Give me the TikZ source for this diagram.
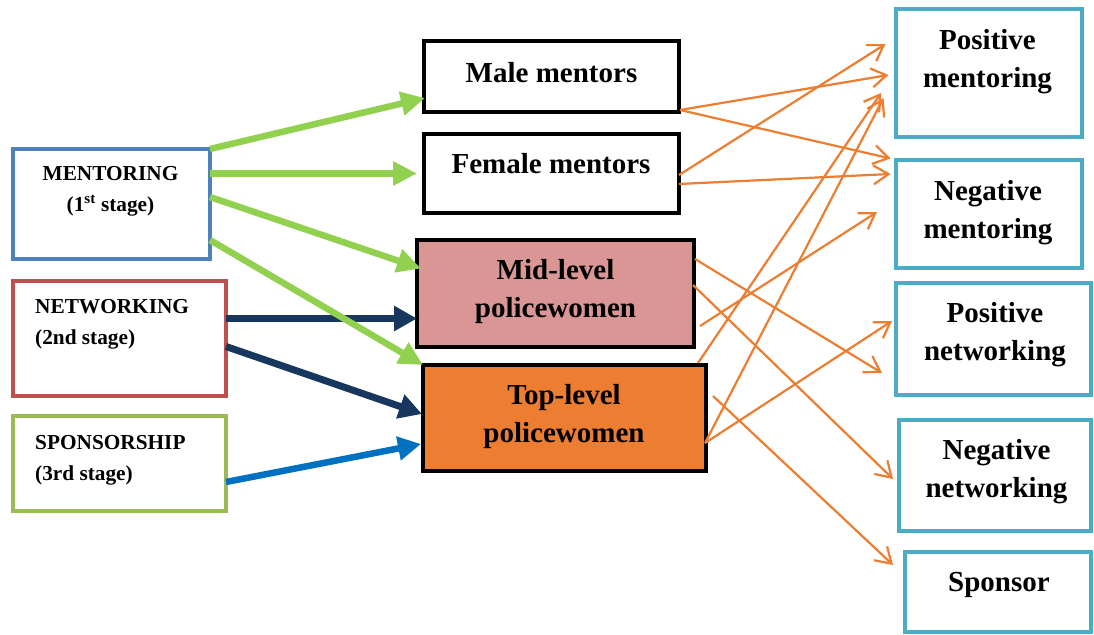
\documentclass[tikz,border=0pt]{standalone}
\usepackage{fontspec}
\setmainfont{Liberation Serif}
\usepackage{tikz}
\usetikzlibrary{arrows.meta,positioning,calc}
\definecolor{StageBlue}{HTML}{4F81BD}
\definecolor{StageRed}{HTML}{C0504D}
\definecolor{StageGreen}{HTML}{9BBB59}
\definecolor{OutTeal}{HTML}{4BACC6}
\definecolor{MidPink}{HTML}{D99694}
\definecolor{TopOrange}{HTML}{ED7D31}
\definecolor{LinkGreen}{HTML}{92D050}
\definecolor{LinkNavy}{HTML}{17375E}
\definecolor{LinkBlue}{HTML}{0070C0}
\definecolor{LinkOrange}{HTML}{ED7D31}

\begin{document}
\begin{tikzpicture}[x=1pt,y=-1pt,
  box/.style={draw,line width=4pt,inner sep=0pt,outer sep=0pt},
  lbl/.style={font=\bfseries\fontsize{29}{38}\selectfont,align=center,inner sep=0pt},
  slbl/.style={font=\bfseries\fontsize{21.3}{31}\selectfont,align=left,inner sep=0pt},
  garrow/.style={LinkGreen,line width=6.5pt,-{Triangle[length=24pt,width=23pt]}},
  narrow/.style={LinkNavy,line width=7pt,-{Triangle[length=23pt,width=24pt]}},
  barrow/.style={LinkBlue,line width=6.5pt,-{Triangle[length=23pt,width=23pt]}},
  oarrow/.style={LinkOrange,line width=2.2pt,-{Straight Barb[length=15pt,width=19pt]}}]
\useasboundingbox (0,0) rectangle (1094,634);

\node[box,draw=StageBlue,minimum width=197pt,minimum height=110pt] (ment) at (111.5,204) {};
\node[box,draw=StageRed,minimum width=213pt,minimum height=115pt] (netw) at (119.5,338.5) {};
\node[box,draw=StageGreen,minimum width=213pt,minimum height=95pt] (spon) at (119.5,463.5) {};
\node[slbl,align=center] (ment-t) at (110.5,191) {MENTORING\\(1\textsuperscript{st} stage)};
\node[slbl,anchor=west] (netw-t) at (35,324) {NETWORKING\\(2nd stage)};
\node[slbl,anchor=west] (spon-t) at (35,460) {SPONSORSHIP\\(3rd stage)};

\node[box,minimum width=255pt,minimum height=71pt] (male) at (551.5,76.5) {};
\node[box,minimum width=255pt,minimum height=79pt] (fem) at (551.5,173.5) {};
\node[box,fill=MidPink,minimum width=277pt,minimum height=107pt] (mid) at (555.5,293.5) {};
\node[box,fill=TopOrange,minimum width=283pt,minimum height=106pt] (top) at (564.5,418) {};
\node[lbl] (male-t) at (551.5,72.5) {Male mentors};
\node[lbl] (fem-t) at (551,163.5) {Female mentors};
\node[lbl] (mid-t) at (555.5,292) {Mid-level\\policewomen};
\node[lbl] (top-t) at (564,416.5) {Top-level\\policewomen};

\node[box,draw=OutTeal,minimum width=186pt,minimum height=127pt] (pment) at (988.5,73) {};
\node[box,draw=OutTeal,minimum width=186pt,minimum height=108pt] (nment) at (988.5,213.5) {};
\node[box,draw=OutTeal,minimum width=195pt,minimum height=112pt] (pnet) at (993,338.5) {};
\node[box,draw=OutTeal,minimum width=192pt,minimum height=111pt] (nnet) at (994.5,475) {};
\node[box,draw=OutTeal,minimum width=186pt,minimum height=80pt] (spons) at (997.5,591.5) {};
\node[lbl] (pment-t) at (987.5,62) {Positive\\mentoring};
\node[lbl] (nment-t) at (988,212.5) {Negative\\mentoring};
\node[lbl] (pnet-t) at (995,334.5) {Positive\\networking};
\node[lbl] (nnet-t) at (996.5,472) {Negative\\networking};
\node[lbl] (spons-t) at (999,585) {Sponsor};

\draw[narrow] ($(netw.east)+(0,-20)$) -- ($(mid.west)+(0,25)$);
\draw[narrow] ($(netw.east)+(0,8)$) -- ($(top.west)+(-1,-4)$);
\draw[barrow] ($(spon.east)+(0,18.5)$) -- ($(top.west)+(-2,26)$);
\draw[garrow] (ment.north east) -- ($(male.south west)+(1,-14)$);
\draw[garrow] (ment.east |- fem.west) -- ($(fem.west)+(-7,0)$);
\draw[garrow] ($(ment.east)+(0,-7)$) -- ($(mid.west)+(4,-25)$);
\draw[garrow] ($(ment.south east)+(0,-19)$) -- (top.north west);

\draw[oarrow] ($(male.south east)+(1,-2)$) -- ($(pment.west)+(-7,2)$);
\draw[oarrow] ($(male.south east)+(1,-2)$) -- ($(nment.north west)+(-5,-1)$);
\draw[oarrow] ($(fem.east)+(0,1.5)$) -- ($(pment.west)+(-10,-29)$);
\draw[oarrow] ($(fem.east)+(0,10.5)$) -- ($(nment.west)+(-5,-39.5)$);
\draw[oarrow] ($(mid.east)+(6,32.5)$) -- ($(nment.west)+(-18.5,-1.5)$);
\draw[oarrow] ($(mid.east)+(1,-34.5)$) -- ($(pnet.west)+(-13.5,34.5)$);
\draw[oarrow] ($(mid.east)+(-1,-8.5)$) -- ($(nnet.west)+(-5.5,4)$);
\draw[oarrow] ($(top.north east)+(-8,-2)$) -- ($(pment.west)+(-14.5,20)$);
\draw[oarrow] ($(top.east)+(-1,25)$) -- ($(pment.west)+(-12,25)$);
\draw[oarrow] ($(top.east)+(-1,25)$) -- ($(pnet.west)+(-3.5,-17.5)$);
\draw[oarrow] ($(top.east)+(7,-22)$) -- ($(spons.west)+(-11.5,-26.5)$);
\end{tikzpicture}
\end{document}
